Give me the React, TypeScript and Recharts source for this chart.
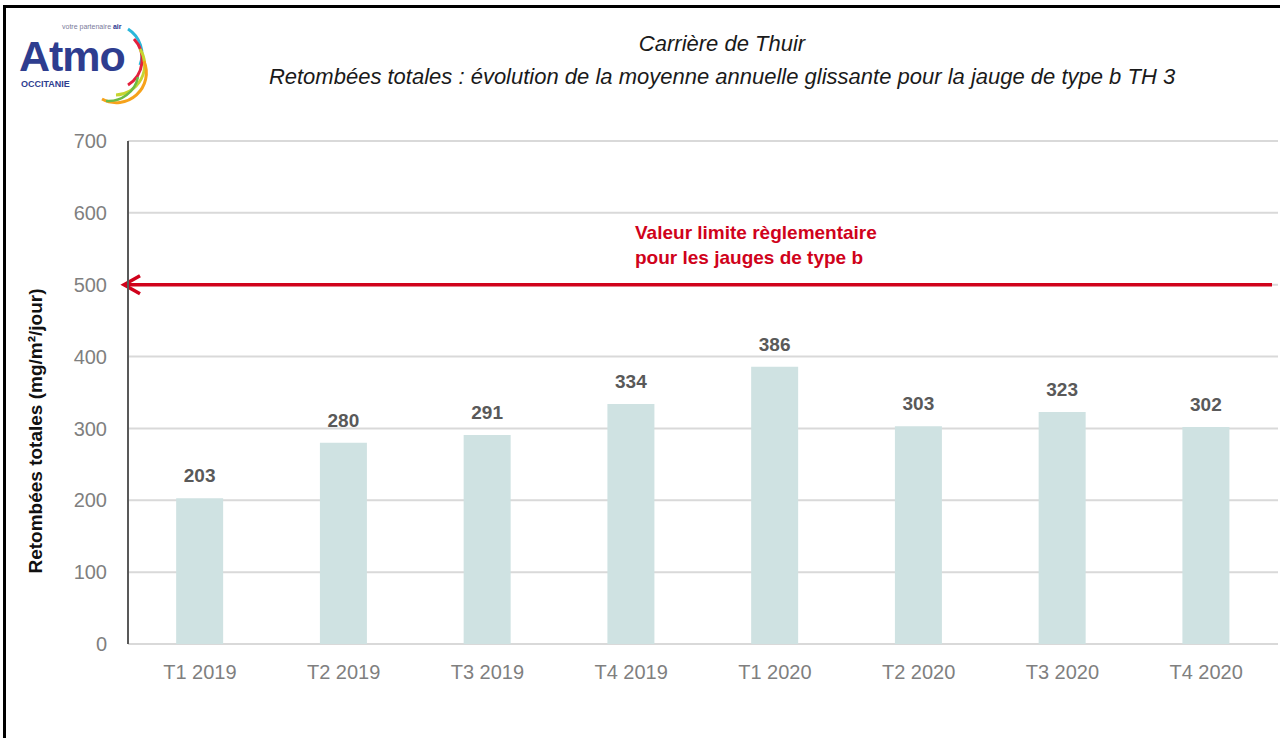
import React from "react";
import {
  BarChart,
  Bar,
  XAxis,
  YAxis,
  CartesianGrid,
  ReferenceLine,
  LabelList,
} from "recharts";

const categories = [
  "T1 2019",
  "T2 2019",
  "T3 2019",
  "T4 2019",
  "T1 2020",
  "T2 2020",
  "T3 2020",
  "T4 2020",
];
const values = [203, 280, 291, 334, 386, 303, 323, 302];
const yTicks = [0, 100, 200, 300, 400, 500, 600, 700];
const limitValue = 500;
const limitLines = ["Valeur limite règlementaire", "pour les jauges de type b"];

const data = categories.map((name, i) => ({ name, value: values[i] }));

const NARROW = '"Liberation Sans Narrow", "Arial Narrow", "Liberation Sans", sans-serif';
const SANS = '"Liberation Sans", Arial, sans-serif';
const RED = "#d0021b";

function LimitArrow(props: any) {
  const { x1, y1, x2 } = props;
  const tip = x1 - 4;
  return (
    <g>
      <line x1={tip + 1} y1={y1} x2={x2 - 6} y2={y1} stroke={RED} strokeWidth={3.5} />
      <polyline
        points={`${tip + 16},${y1 - 9} ${tip},${y1} ${tip + 16},${y1 + 9}`}
        fill="none"
        stroke={RED}
        strokeWidth={3.5}
      />
      {limitLines.map((t, i) => (
        <text
          key={t}
          x={635}
          y={y1 - 46 + i * 25}
          fill={RED}
          fontFamily={NARROW}
          fontWeight="bold"
          fontSize={19}
        >
          {t}
        </text>
      ))}
    </g>
  );
}

function Logo() {
  return (
    <svg width={150} height={100} style={{ position: "absolute", left: 10, top: 15 }}>
      <text x={52} y={14} fontSize={7} fill="#7a7a9a" fontFamily={SANS}>
        votre partenaire
        <tspan fontWeight="bold" fill="#2b3990"> air</tspan>
      </text>
      <text x={9} y={56} fontSize={43} fontWeight="bold" fill="#2e3d8f" fontFamily={SANS} letterSpacing={-1}>
        Atmo
      </text>
      <text x={11} y={72} fontSize={9} fontWeight="bold" fill="#2e3d8f" fontFamily={SANS}>
        OCCITANIE
      </text>
      <path d="M118,14 A30,30 0 0 1 130,50" fill="none" stroke="#2bb7da" strokeWidth={3} />
      <path d="M124,24 A30,30 0 0 1 118,70" fill="none" stroke="#e3203c" strokeWidth={3} />
      <path d="M130,34 A30,30 0 0 1 106,80" fill="none" stroke="#c6d530" strokeWidth={3} />
      <path d="M134,46 A30,30 0 0 1 92,84" fill="none" stroke="#f6a21b" strokeWidth={3} />
      <path d="M128,62 A30,30 0 0 1 96,86" fill="none" stroke="#6dbb45" strokeWidth={2.5} />
    </svg>
  );
}

export default function App() {
  return (
    <div
      style={{
        position: "absolute",
        left: 0,
        top: 0,
        width: 1280,
        height: 738,
        background: "#fff",
        overflow: "hidden",
      }}
    >
      <div
        style={{
          position: "absolute",
          left: 3,
          top: 5,
          right: -10,
          bottom: -10,
          borderLeft: "3px solid #000",
          borderTop: "3px solid #000",
        }}
      />
      <Logo />
      <div
        style={{
          position: "absolute",
          left: 0,
          width: 1444,
          top: 27,
          textAlign: "center",
          fontFamily: SANS,
          fontStyle: "italic",
          fontSize: 22,
          color: "#1a1a1a",
          lineHeight: "33px",
        }}
      >
        <div>Carrière de Thuir</div>
        <div>Retombées totales : évolution de la moyenne annuelle glissante pour la jauge de type b TH 3</div>
      </div>
      <div
        style={{
          position: "absolute",
          left: 36,
          top: 431,
          transform: "translate(-50%, -50%) rotate(-90deg)",
          whiteSpace: "nowrap",
          fontFamily: NARROW,
          fontWeight: "bold",
          fontSize: 19,
          color: "#111",
        }}
      >
        Retombées totales (mg/m²/jour)
      </div>
      <div style={{ position: "absolute", left: 0, top: 0 }}>
        <BarChart
          width={1280}
          height={738}
          data={data}
          margin={{ top: 141, right: 2, bottom: 64, left: 68 }}
          barCategoryGap="33.5%"
        >
          <CartesianGrid vertical={false} stroke="#d9d9d9" strokeWidth={2} />
          <XAxis
            dataKey="name"
            height={30}
            axisLine={false}
            tickLine={false}
            tickMargin={15}
            tick={{ fill: "#7f7f7f", fontSize: 20, fontFamily: NARROW }}
          />
          <YAxis
            width={60}
            domain={[0, 700]}
            ticks={yTicks}
            interval={0}
            axisLine={{ stroke: "#595959", strokeWidth: 2 }}
            tickLine={false}
            tickMargin={15}
            tick={{ fill: "#7f7f7f", fontSize: 20, fontFamily: NARROW }}
          />
          <Bar dataKey="value" fill="#cfe2e2" isAnimationActive={false}>
            <LabelList
              dataKey="value"
              position="top"
              offset={16}
              fill="#595959"
              fontSize={19}
              fontWeight="bold"
              fontFamily={NARROW}
            />
          </Bar>
          <ReferenceLine y={limitValue} shape={LimitArrow} ifOverflow="visible" />
        </BarChart>
      </div>
    </div>
  );
}
